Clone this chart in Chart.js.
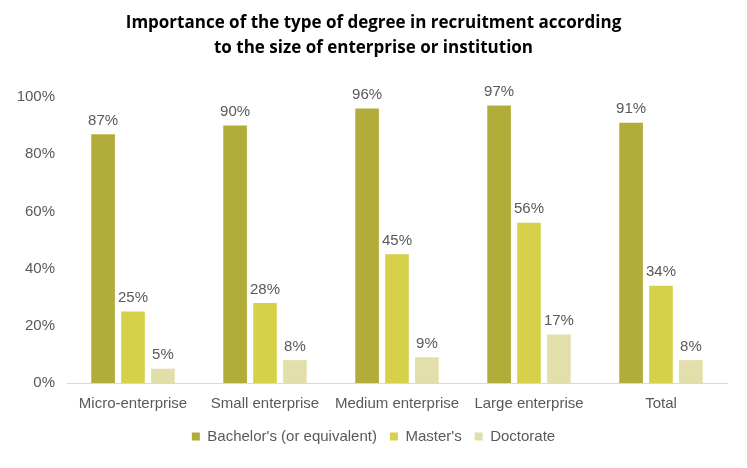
<!DOCTYPE html>
<html><head><meta charset="utf-8">
<script src="https://cdn.jsdelivr.net/npm/chart.js@4"></script>
<style>html,body{margin:0;padding:0;background:#fff;}#wrap{width:747px;height:468px;position:relative;}</style>
</head><body><div id="wrap"><canvas id="c"></canvas></div>
<script>
const categories = ["Micro-enterprise","Small enterprise","Medium enterprise","Large enterprise","Total"];
const bachelor = [87,90,96,97,91];
const master = [25,28,45,56,34];
const doctorate = [5,8,9,17,8];
const seriesNames = ["Bachelor's (or equivalent)","Master's","Doctorate"];
const titleLines = ["Importance of the type of degree in recruitment according","to the size of enterprise or institution"];
const FONT = 'Liberation Sans';

const labelPlugin = {
  id:'vals',
  afterDatasetsDraw(chart){
    const ctx = chart.ctx;
    ctx.save();
    ctx.font = '15px "Liberation Sans"';
    ctx.fillStyle = '#595959';
    ctx.textAlign = 'center';
    ctx.textBaseline = 'bottom';
    chart.data.datasets.forEach((ds,i)=>{
      chart.getDatasetMeta(i).data.forEach((bar,j)=>{
        ctx.fillText(ds.data[j]+'%', bar.x, bar.y-6);
      });
    });
    ctx.restore();
  }
};

new Chart(document.getElementById('c'),{
  type:'bar',
  data:{labels:categories,datasets:[
    {label:seriesNames[0],data:bachelor,backgroundColor:'#b2ad3b'},
    {label:seriesNames[1],data:master,backgroundColor:'#d7d14a'},
    {label:seriesNames[2],data:doctorate,backgroundColor:'#e3dfaa'}
  ]},
  options:{
    responsive:true,maintainAspectRatio:false,animation:false,
    layout:{padding:{left:10,right:10,top:0,bottom:14}},
    datasets:{bar:{categoryPercentage:0.68,barPercentage:0.79}},
    plugins:{
      title:{display:true,text:titleLines,color:'#000',font:{family:'Open Sans',size:17,weight:'bold',lineHeight:1.5},padding:{top:10,bottom:36}},
      legend:{position:'bottom',labels:{boxWidth:8,boxHeight:8,color:'#595959',font:{family:FONT,size:15},padding:13}},
      tooltip:{enabled:false}
    },
    scales:{
      x:{afterFit:a=>{a.height=33;},grid:{display:false,drawTicks:false},border:{color:'#d9d9d9'},ticks:{color:'#595959',padding:12,font:{family:FONT,size:15}}},
      y:{min:0,max:100,afterFit:a=>{a.width=57;},ticks:{stepSize:20,color:'#595959',padding:4,font:{family:FONT,size:15},callback:v=>v+'%'},grid:{display:false},border:{display:false}},
      yR:{position:'right',display:true,afterFit:a=>{a.width=10;},ticks:{display:false},grid:{display:false},border:{display:false}}
    }
  },
  plugins:[labelPlugin]
});
</script></body></html>
